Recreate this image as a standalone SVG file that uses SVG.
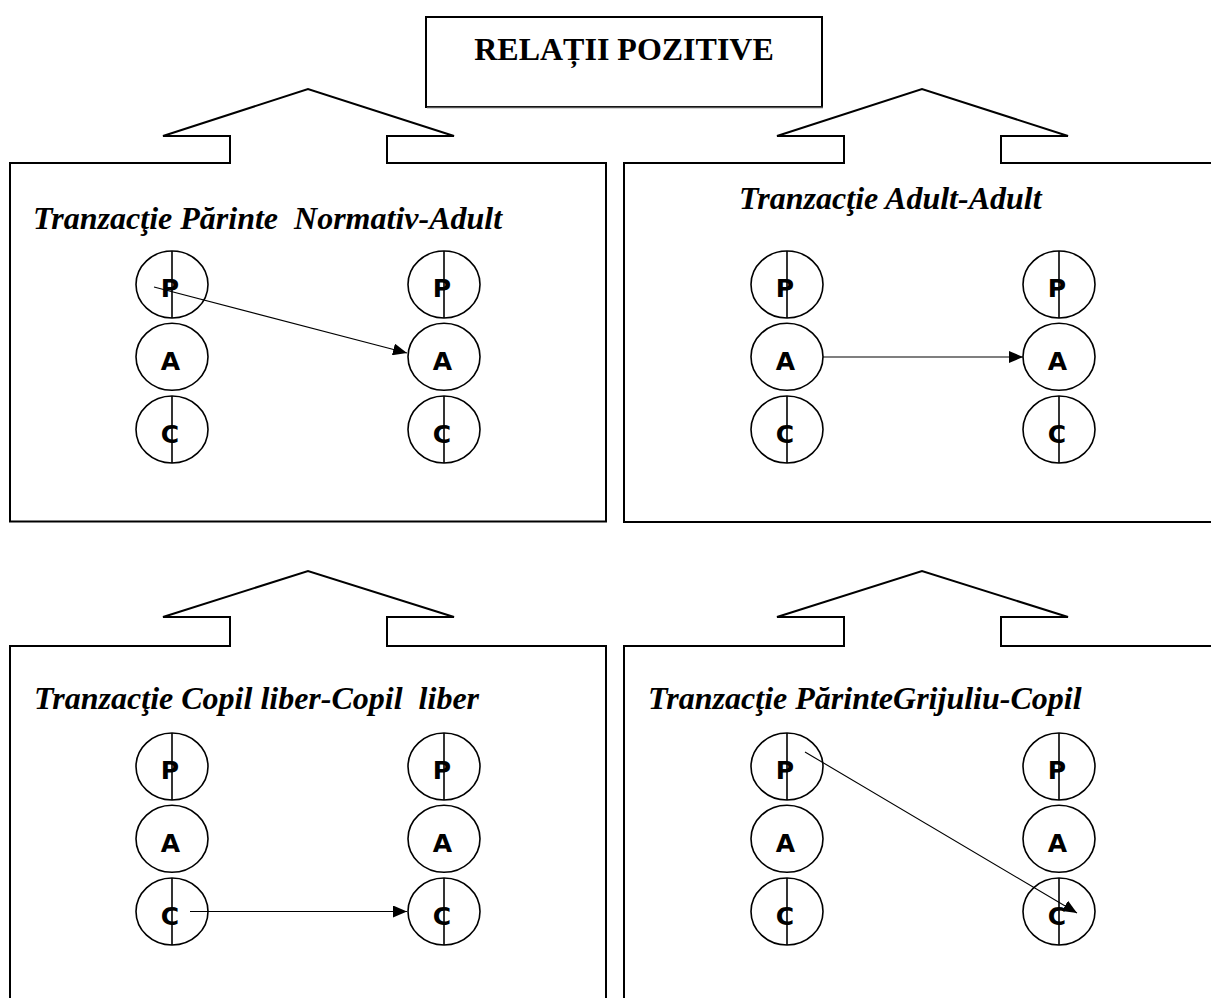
<svg xmlns="http://www.w3.org/2000/svg" width="1211" height="998" viewBox="0 0 1211 998">
<style>
.frame{fill:none;stroke:#000;stroke-width:2}
.circ{fill:none;stroke:#000;stroke-width:1.6}
.div{stroke:#000;stroke-width:1.6}
.lt{font-family:"DejaVu Sans",Verdana,sans-serif;font-weight:bold;font-size:25px;text-anchor:middle}
.ttl{font-family:"Liberation Serif","Times New Roman",serif;font-weight:bold;font-style:italic;font-size:32px;white-space:pre}
.head{font-family:"Liberation Serif","Times New Roman",serif;font-weight:bold;font-size:32px;text-anchor:middle}
.conn{stroke:#000;stroke-width:1.1;fill:none}
</style>
<defs>
<marker id="ah" markerWidth="15" markerHeight="12" refX="14" refY="6" orient="auto" markerUnits="userSpaceOnUse">
<path d="M0,0 L14,6 L0,12 z" fill="#000"/>
</marker>
<g id="ego">
<ellipse class="circ" cx="0" cy="0" rx="36" ry="33.5"/>
<line class="div" x1="0" y1="-33.5" x2="0" y2="33.5"/>
<text class="lt" x="-2" y="12.5">P</text>
<ellipse class="circ" cx="0" cy="72.3" rx="36" ry="33.5"/>
<text class="lt" x="-1.5" y="85">A</text>
<ellipse class="circ" cx="0" cy="145" rx="36" ry="33.5"/>
<line class="div" x1="0" y1="111.5" x2="0" y2="178.5"/>
<text class="lt" x="-2" y="158">C</text>
</g>
</defs>
<rect width="1211" height="998" fill="#fff"/>

<g id="title">
<rect x="426" y="17" width="396" height="90" fill="#fff" stroke="#000" stroke-width="2"/>
<line x1="427" y1="107.5" x2="823" y2="107.5" stroke="#555" stroke-width="1.5"/>
<text class="head" x="624" y="60">RELAȚII POZITIVE</text>
</g>

<g id="panel-tl">
<path class="frame" d="M10 521.5 L10 163 L230 163 L230 136 L163 136 L308 89 L454 136 L387 136 L387 163 L606 163 L606 521.5 Z"/>
<text class="ttl" x="33" y="229" xml:space="preserve">Tranzacţie Părinte  Normativ-Adult</text>
<use href="#ego" x="172" y="284.5"/>
<use href="#ego" x="444" y="284.5"/>
</g>

<g id="panel-tr">
<path class="frame" d="M1215 163 L1001 163 L1001 136 L1068 136 L922 89 L777 136 L844 136 L844 163 L624 163 L624 522 L1215 522"/>
<text class="ttl" x="739" y="209">Tranzacţie Adult-Adult</text>
<use href="#ego" x="787" y="284.5"/>
<use href="#ego" x="1059" y="284.5"/>
</g>

<g id="panel-bl">
<path class="frame" d="M10 1005 L10 646 L230 646 L230 617 L163 617 L308 571 L454 617 L387 617 L387 646 L606 646 L606 1005"/>
<text class="ttl" x="34" y="709" xml:space="preserve">Tranzacţie Copil liber-Copil  liber</text>
<use href="#ego" x="172" y="766.5"/>
<use href="#ego" x="444" y="766.5"/>
</g>

<g id="panel-br">
<path class="frame" d="M1215 646 L1001 646 L1001 617 L1068 617 L922 571 L777 617 L844 617 L844 646 L624 646 L624 1005"/>
<text class="ttl" x="648" y="709">Tranzacţie PărinteGrijuliu-Copil</text>
<use href="#ego" x="787" y="766.5"/>
<use href="#ego" x="1059" y="766.5"/>
</g>

<g id="connectors">
<line class="conn" x1="154" y1="287" x2="407" y2="353" marker-end="url(#ah)"/>
<line class="conn" x1="823" y1="357" x2="1023" y2="357" marker-end="url(#ah)"/>
<line class="conn" x1="190" y1="911.5" x2="407" y2="911.5" marker-end="url(#ah)"/>
<line class="conn" x1="805" y1="752" x2="1077" y2="913" marker-end="url(#ah)"/>
</g>
</svg>
